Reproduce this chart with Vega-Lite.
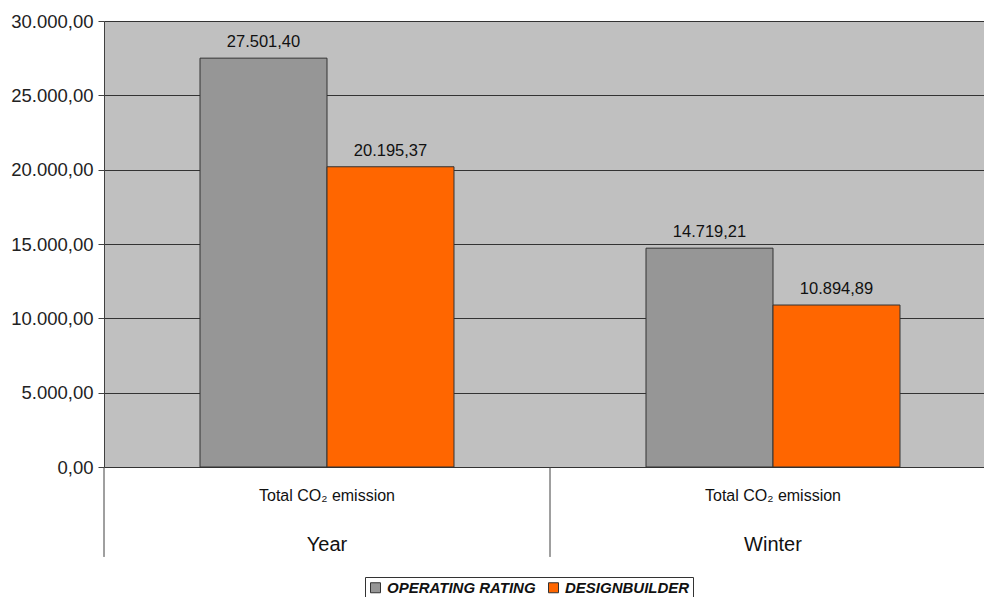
{
  "$schema": "https://vega.github.io/schema/vega-lite/v6.json",
  "width": 880,
  "height": 446,
  "autosize": "none",
  "padding": {"left": 104, "top": 21, "right": 0, "bottom": 130},
  "background": "white",
  "config": {
    "locale": {"number": {"decimal": ",", "thousands": ".", "grouping": [3], "currency": ["", ""]}},
    "view": {"fill": "#C0C0C0", "stroke": null},
    "font": "Liberation Sans"
  },
  "data": {
    "values": [
      {"period": "Year", "series": "OPERATING RATING", "value": 27501.40},
      {"period": "Year", "series": "DESIGNBUILDER", "value": 20195.37},
      {"period": "Winter", "series": "OPERATING RATING", "value": 14719.21},
      {"period": "Winter", "series": "DESIGNBUILDER", "value": 10894.89}
    ]
  },
  "layer": [
    {
      "mark": {"type": "bar", "stroke": "#333333", "strokeWidth": 1, "clip": false},
      "encoding": {
        "x": {"field": "period", "type": "nominal", "sort": ["Year", "Winter"], "scale": {"paddingInner": 0, "paddingOuter": 0, "range": [0, 892]}, "axis": null},
        "xOffset": {"field": "series", "type": "nominal", "sort": ["OPERATING RATING", "DESIGNBUILDER"], "scale": {"paddingInner": 0, "paddingOuter": 0.756}},
        "y": {
          "field": "value", "type": "quantitative",
          "scale": {"domain": [0, 30000], "nice": false, "zero": true},
          "axis": {
            "title": null, "values": [0, 5000, 10000, 15000, 20000, 25000, 30000],
            "format": ",.2f", "labelFontSize": 18.5, "labelColor": "#222222", "labelPadding": 5,
            "tickSize": 6, "tickColor": "#404040", "domainColor": "#404040",
            "gridColor": "#333333", "gridOpacity": 1, "grid": true
          }
        },
        "color": {
          "field": "series", "type": "nominal",
          "sort": ["OPERATING RATING", "DESIGNBUILDER"],
          "scale": {"domain": ["OPERATING RATING", "DESIGNBUILDER"], "range": ["#969696", "#FF6600"]},
          "legend": {
            "title": null, "orient": "none", "legendX": 261, "legendY": 556, "direction": "horizontal",
            "strokeColor": "#333333", "padding": 3, "symbolType": "square", "symbolSize": 100,
            "symbolStrokeColor": "#333333", "symbolStrokeWidth": 1,
            "labelFontSize": 15, "labelFontWeight": "bold", "labelFontStyle": "italic", "labelColor": "#111111",
            "columnPadding": 10, "labelOffset": 4
          }
        }
      }
    },
    {
      "mark": {"type": "text", "baseline": "alphabetic", "dy": -11, "fontSize": 16.5, "color": "#111111", "clip": false},
      "encoding": {
        "x": {"field": "period", "type": "nominal", "sort": ["Year", "Winter"]},
        "xOffset": {"field": "series", "type": "nominal", "sort": ["OPERATING RATING", "DESIGNBUILDER"]},
        "y": {"field": "value", "type": "quantitative"},
        "text": {"field": "value", "type": "quantitative", "format": ",.2f"}
      }
    },
    {
      "data": {"values": [{"period": "Year"}, {"period": "Winter"}]},
      "layer": [
        {
          "mark": {"type": "rule", "color": "#404040", "strokeWidth": 1, "clip": false},
          "encoding": {
            "x": {"field": "period", "type": "nominal", "sort": ["Year", "Winter"], "bandPosition": 0},
            "y": {"datum": 0},
            "y2": {"datum": -6050}
          }
        },
        {
          "mark": {"type": "text", "text": "Total CO₂ emission", "fontSize": 16, "baseline": "middle", "color": "#111111", "clip": false},
          "encoding": {
            "x": {"field": "period", "type": "nominal", "sort": ["Year", "Winter"]},
            "y": {"datum": -1950}
          }
        },
        {
          "mark": {"type": "text", "fontSize": 20, "baseline": "middle", "color": "#111111", "clip": false},
          "encoding": {
            "x": {"field": "period", "type": "nominal", "sort": ["Year", "Winter"]},
            "y": {"datum": -5250},
            "text": {"field": "period"}
          }
        }
      ]
    }
  ]
}
